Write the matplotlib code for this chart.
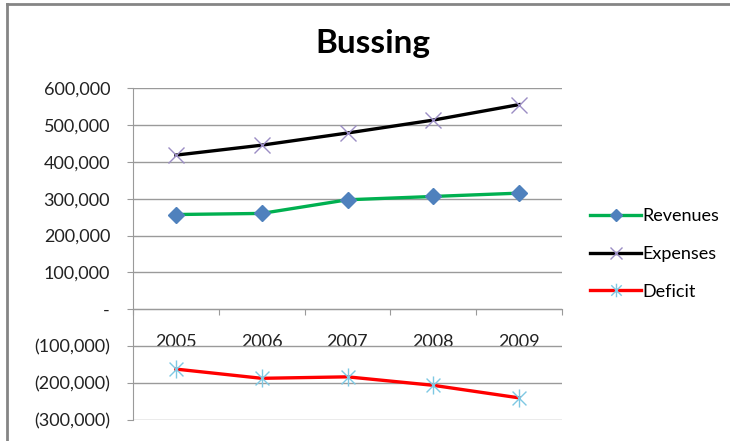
import numpy as np
import matplotlib
matplotlib.use('Agg')
import matplotlib.pyplot as plt
from matplotlib.path import Path
from matplotlib.lines import Line2D

plt.rcParams['font.family'] = ['Lato', 'DejaVu Sans']

# Daten
years = ['2005', '2006', '2007', '2008', '2009']
revenues = [257000, 260000, 297000, 306000, 315000]
expenses = [418000, 445000, 478000, 513000, 555000]
deficit = [-162000, -187000, -183000, -206000, -240000]

yticks = np.arange(-300000, 600001, 100000)

def fmt(v):
    if v == 0:
        return '-'
    if v < 0:
        return '({:,})'.format(-int(v))
    return '{:,}'.format(int(v))

# Stern-Marker wie in Excel (x plus senkrechter Strich)
star = Path([(-1, -1), (1, 1), (-1, 1), (1, -1), (0, -1.3), (0, 1.3)],
            [Path.MOVETO, Path.LINETO, Path.MOVETO, Path.LINETO, Path.MOVETO, Path.LINETO])

fig = plt.figure(figsize=(7.3, 4.41), dpi=100)
ax = fig.add_axes([133/730, 1-420/441, (562-133)/730, (420-88)/441])

x = np.arange(len(years))
ax.plot(x, revenues, color='#00B050', lw=2.4, marker='D', ms=8,
        mfc='#4F81BD', mec='#4F81BD', label='Revenues', zorder=3)
ax.plot(x, expenses, color='black', lw=2.4, marker='x', ms=11, mew=1,
        mec='#9B8DC4', label='Expenses', zorder=3)
ax.plot(x, deficit, color='#FF0000', lw=2.4, marker=star, ms=13, mew=1,
        mfc='none', mec='#7EC8E3', label='Deficit', zorder=3)

ax.set_xlim(-0.5, len(years) - 0.5)
ax.set_ylim(-300000, 600000)
ax.set_yticks(yticks)
ax.set_yticklabels([fmt(v) for v in yticks], fontsize=13, color='#222222')
ax.yaxis.grid(True, color='#9a9a9a', lw=1)
ax.set_axisbelow(True)

# Kategorieachse bei 0
ax.spines['bottom'].set_position(('data', 0))
ax.spines['bottom'].set_color('#9a9a9a')
ax.spines['left'].set_color('#9a9a9a')
ax.spines['top'].set_visible(False)
ax.spines['right'].set_visible(False)
ax.set_xticks(np.arange(-0.5, len(years), 1.0))
ax.set_xticklabels([])
ax.set_xticks(x, minor=True)
ax.set_xticklabels(years, minor=True, fontsize=13, color='#222222')
ax.tick_params(axis='x', which='major', direction='out', length=4, color='#9a9a9a')
ax.tick_params(axis='x', which='minor', length=0, pad=18)
ax.tick_params(axis='y', direction='out', length=4.5, color='#9a9a9a', pad=12)

fig.text(373/730, 1-44/441, 'Bussing', ha='center', va='center',
         fontsize=24, fontweight='bold')

fig.legend(loc='center left', bbox_to_anchor=(574/730, 1-254/441), frameon=False,
           fontsize=13, handlelength=2.8, handletextpad=0.1, labelspacing=1.2,
           markerscale=0.75)

# Rahmen
fig.add_artist(Line2D([7/730, 7/730], [0, 1-4/441], transform=fig.transFigure,
                      color='#858585', lw=2))
fig.add_artist(Line2D([7/730, 1], [1-4/441, 1-4/441], transform=fig.transFigure,
                      color='#858585', lw=2))

fig.savefig('out.png', dpi=100)
